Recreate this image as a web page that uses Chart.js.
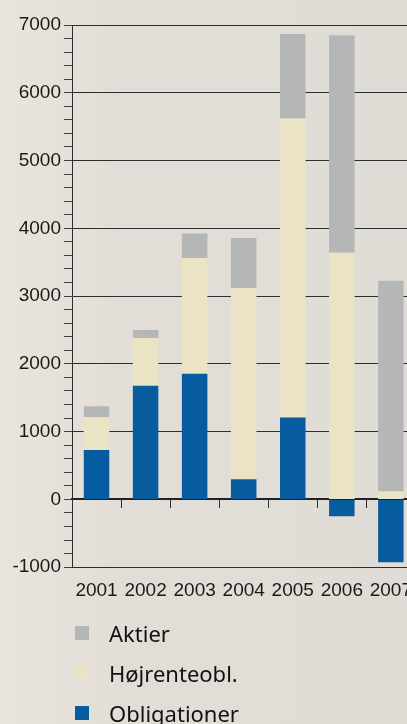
<!DOCTYPE html>
<html>
<head>
<meta charset="utf-8">
<script src="https://cdn.jsdelivr.net/npm/chart.js@4"></script>
<style>
  html, body {
    margin: 0;
    padding: 0;
    width: 407px;
    height: 724px;
    overflow: hidden;
  }
  body {
    background: linear-gradient(90deg, #e9e4dc 0%, #e2ded7 30%, #dfdcd6 100%);
    position: relative;
  }
  #wrap {
    position: absolute;
    left: 0;
    top: 0;
    width: 424px;
    height: 617px;
  }
  #legend {
    position: absolute;
    left: 75px;
    top: 613px;
    font-family: "Noto Sans", sans-serif;
    font-size: 22px;
    color: #111;
  }
  .item {
    height: 40px;
    display: flex;
    align-items: center;
  }
  .box {
    width: 14px;
    height: 14px;
    margin-right: 20px;
  }
</style>
</head>
<body>
<div id="wrap"><canvas id="chart" width="424" height="617"></canvas></div>
<div id="legend"></div>
<script>
// Data
const years = ['2001', '2002', '2003', '2004', '2005', '2006', '2007'];
const obligationer = [730, 1677, 1855, 296, 1209, -247, -928];
const hojrente = [484, 706, 1707, 2822, 4410, 3641, 118];
const aktier = [162, 118, 360, 740, 1248, 3207, 3108];

const seriesNames = ['Obligationer', 'Højrenteobl.', 'Aktier'];
const seriesColors = ['#065c9e', '#ebe4c4', '#b5b7b7'];

const axisColor = '#2e2e2e';
const tickFont = { family: 'Liberation Sans, Arial, sans-serif', size: 19 };

const ctx = document.getElementById('chart').getContext('2d');

new Chart(ctx, {
  type: 'bar',
  data: {
    labels: years,
    datasets: [
      { label: seriesNames[0], data: obligationer, backgroundColor: seriesColors[0] },
      { label: seriesNames[1], data: hojrente, backgroundColor: seriesColors[1] },
      { label: seriesNames[2], data: aktier, backgroundColor: seriesColors[2] }
    ]
  },
  options: {
    responsive: false,
    animation: false,
    devicePixelRatio: 1,
    layout: { padding: { top: 25, bottom: 3, left: 0, right: 0 } },
    datasets: {
      bar: { categoryPercentage: 1, barPercentage: 0.52, borderWidth: 0 }
    },
    plugins: {
      legend: { display: false },
      tooltip: { enabled: false }
    },
    scales: {
      x: {
        stacked: true,
        grid: { drawOnChartArea: false, drawTicks: false },
        border: { display: true, color: axisColor, width: 1 },
        ticks: { color: '#1a1a1a', font: tickFont, padding: 12, maxRotation: 0, autoSkip: false }
      },
      x2: {
        type: 'category',
        labels: years,
        position: { y: 0 },
        offset: true,
        grid: { offset: true, drawOnChartArea: false, tickLength: 8, color: axisColor, lineWidth: 1 },
        border: { display: true, color: '#222', width: 2 },
        ticks: { display: false }
      },
      y: {
        stacked: true,
        min: -1000,
        max: 7000,
        afterFit: (scale) => { scale.width = 72; },
        ticks: {
          stepSize: 200,
          autoSkip: false,
          padding: 3,
          color: '#1a1a1a',
          font: tickFont,
          callback: (v) => (v % 1000 === 0 ? String(v) : '')
        },
        grid: {
          tickLength: 8,
          color: (c) => (c.tick && c.tick.value % 1000 === 0 ? axisColor : 'rgba(0,0,0,0)'),
          tickColor: '#444',
          lineWidth: 1
        },
        border: { display: true, color: axisColor, width: 1 }
      }
    }
  }
});

// Legend, top to bottom as in the picture
const legend = document.getElementById('legend');
for (let i = seriesNames.length - 1; i >= 0; i--) {
  const item = document.createElement('div');
  item.className = 'item';
  const box = document.createElement('span');
  box.className = 'box';
  box.style.background = seriesColors[i];
  const txt = document.createElement('span');
  txt.textContent = seriesNames[i];
  item.appendChild(box);
  item.appendChild(txt);
  legend.appendChild(item);
}
</script>
</body>
</html>
